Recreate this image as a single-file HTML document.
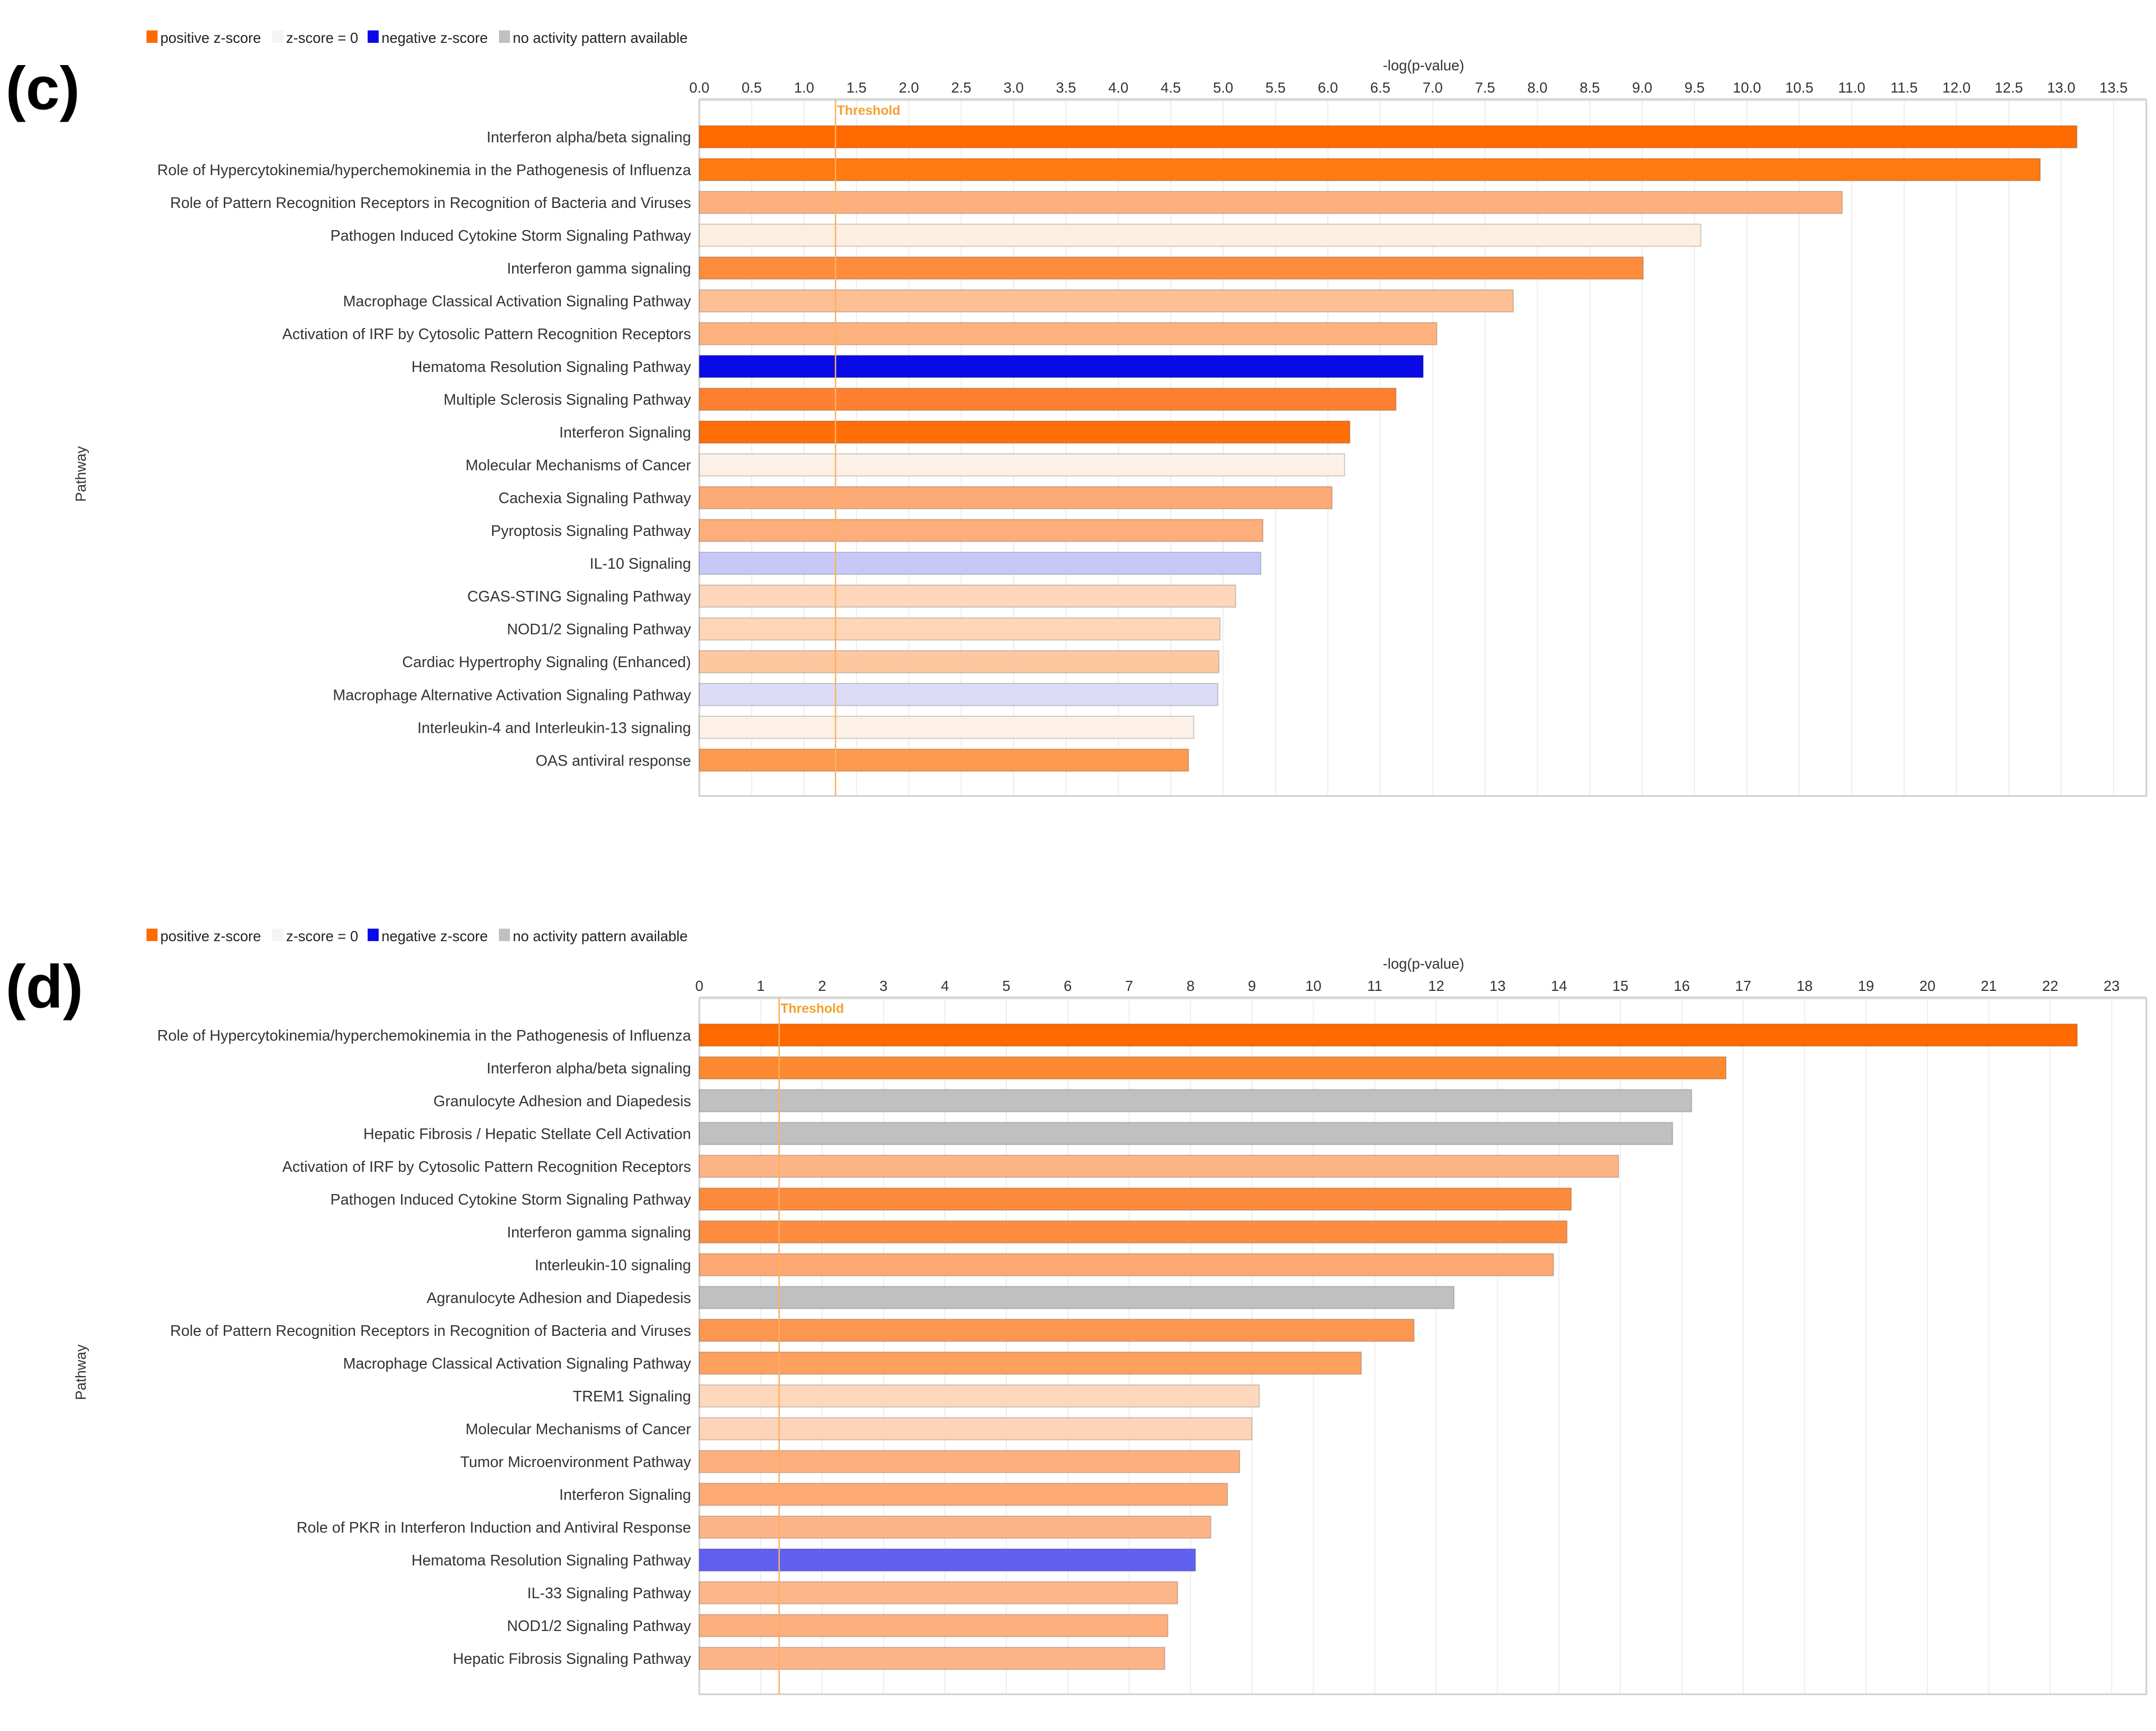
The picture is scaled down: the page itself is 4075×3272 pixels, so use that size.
<!DOCTYPE html>
<html><head><meta charset="utf-8"><style>
html,body{margin:0;padding:0;background:#fff}
svg{display:block}
text{font-family:"Liberation Sans",sans-serif}
</style></head><body>
<svg id="fig" width="4075" height="3272" viewBox="0 0 1560 1252.6" preserveAspectRatio="none" xmlns="http://www.w3.org/2000/svg"></svg>
<script>
const catsC = ["Interferon alpha/beta signaling","Role of Hypercytokinemia/hyperchemokinemia in the Pathogenesis of Influenza","Role of Pattern Recognition Receptors in Recognition of Bacteria and Viruses","Pathogen Induced Cytokine Storm Signaling Pathway","Interferon gamma signaling","Macrophage Classical Activation Signaling Pathway","Activation of IRF by Cytosolic Pattern Recognition Receptors","Hematoma Resolution Signaling Pathway","Multiple Sclerosis Signaling Pathway","Interferon Signaling","Molecular Mechanisms of Cancer","Cachexia Signaling Pathway","Pyroptosis Signaling Pathway","IL-10 Signaling","CGAS-STING Signaling Pathway","NOD1/2 Signaling Pathway","Cardiac Hypertrophy Signaling (Enhanced)","Macrophage Alternative Activation Signaling Pathway","Interleukin-4 and Interleukin-13 signaling","OAS antiviral response"];
const valsC = [13.15,12.8,10.91,9.56,9.01,7.77,7.04,6.91,6.65,6.21,6.16,6.04,5.38,5.36,5.12,4.97,4.96,4.95,4.72,4.67];
const colsC = ["#ff6a00","#ff7a10","#fdb07e","#fdeee2","#fd8c3c","#fdbf94","#fdb27e","#0a0ae6","#fd8030","#ff6e08","#fdf0e6","#fdaa76","#fdae7a","#c8c8f8","#fdd7bb","#fdd6b8","#fdc8a0","#dcdcf8","#fdf0e6","#fd9a50"];
const ticksC = ["0.0","0.5","1.0","1.5","2.0","2.5","3.0","3.5","4.0","4.5","5.0","5.5","6.0","6.5","7.0","7.5","8.0","8.5","9.0","9.5","10.0","10.5","11.0","11.5","12.0","12.5","13.0","13.5"];
const tickValsC = [0,0.5,1,1.5,2,2.5,3,3.5,4,4.5,5,5.5,6,6.5,7,7.5,8,8.5,9,9.5,10,10.5,11,11.5,12,12.5,13,13.5];

const catsD = ["Role of Hypercytokinemia/hyperchemokinemia in the Pathogenesis of Influenza","Interferon alpha/beta signaling","Granulocyte Adhesion and Diapedesis","Hepatic Fibrosis / Hepatic Stellate Cell Activation","Activation of IRF by Cytosolic Pattern Recognition Receptors","Pathogen Induced Cytokine Storm Signaling Pathway","Interferon gamma signaling","Interleukin-10 signaling","Agranulocyte Adhesion and Diapedesis","Role of Pattern Recognition Receptors in Recognition of Bacteria and Viruses","Macrophage Classical Activation Signaling Pathway","TREM1 Signaling","Molecular Mechanisms of Cancer","Tumor Microenvironment Pathway","Interferon Signaling","Role of PKR in Interferon Induction and Antiviral Response","Hematoma Resolution Signaling Pathway","IL-33 Signaling Pathway","NOD1/2 Signaling Pathway","Hepatic Fibrosis Signaling Pathway"];
const valsD = [22.44,16.72,16.16,15.85,14.97,14.2,14.13,13.91,12.29,11.64,10.78,9.12,9.0,8.8,8.6,8.33,8.08,7.79,7.63,7.58];
const colsD = ["#ff6a00","#fd8a30","#c0c0c0","#c0c0c0","#fdb486","#fd8a3c","#fd8c40","#fda872","#c0c0c0","#fd9650","#fda060","#fdd8bc","#fdd4b8","#fdb07e","#fdaa74","#fdb488","#6060f0","#fdb68a","#fdb07e","#fdb488"];
const ticksD = ["0","1","2","3","4","5","6","7","8","9","10","11","12","13","14","15","16","17","18","19","20","21","22","23"];
const tickValsD = [0,1,2,3,4,5,6,7,8,9,10,11,12,13,14,15,16,17,18,19,20,21,22,23];
const threshold = 1.3;

const NS="http://www.w3.org/2000/svg";
const svg=document.getElementById('fig');
function mk(tag,attrs,parent,text){const e=document.createElementNS(NS,tag);for(const k in attrs)e.setAttribute(k,attrs[k]);if(text!==undefined)e.textContent=text;(parent||svg).appendChild(e);return e;}

function panel(label, top, cats, vals, cols, ticks, tickVals, unit){
  const g=mk('g',{});
  
  
  const x0=506, xr=1553, axisY=top+45, bottomY=top+549;
  const xs=v=>x0+v*unit;
  const t=mk('text',{x:4,y:top+52,'font-size':44,'font-weight':'bold',fill:'#000'},g,'('+label+')');
  
  
  const leg=mk('g',{},g);
  
  
  const items=[["#ff6a00","positive z-score",106],["#f4f4f4","z-score = 0",197],["#0a0ae6","negative z-score",266],["#c0c0c0","no activity pattern available",361]];
  items.forEach(it=>{
    const r=mk('rect',{x:it[2],y:top-5,width:8,height:9,fill:it[0]},leg);
    
    
    const tt=mk('text',{x:it[2]+10,y:top+4,'font-size':10.5,fill:'#222'},leg,it[1]);
    
    
  });
  const ti=mk('text',{x:1030,y:top+24,'font-size':10.5,fill:'#333','text-anchor':'middle'},g,'-log(p-value)');
  
  
  tickVals.forEach((v,i)=>{
    const l=mk('line',{x1:xs(v),x2:xs(v),y1:axisY,y2:bottomY,stroke:'#eeeeee','stroke-width':0.8},g);
    
    
    const tl=mk('text',{x:xs(v),y:top+40,'font-size':10.5,fill:'#333','text-anchor':'middle'},g,ticks[i]);
    
    
  });
  const ax=mk('line',{x1:x0,x2:xr,y1:axisY,y2:axisY,stroke:'#d8d8d8','stroke-width':2},g);
  
  
  const lb=mk('polyline',{points:`${x0},${axisY} ${x0},${bottomY} ${xr},${bottomY} ${xr},${axisY}`,fill:'none',stroke:'#d0d0d0','stroke-width':1.2},g);
  
  
  const yt=mk('text',{x:62,y:top+316,'font-size':10.5,fill:'#333','text-anchor':'middle',transform:`rotate(-90 62 ${top+316})`},g,'Pathway');
  
  
  const y1=top+72, step=23.74;
  cats.forEach((c,i)=>{
    const cy=y1+i*step;
    const b=mk('rect',{x:x0,y:cy-8,width:xs(vals[i])-x0,height:16,fill:cols[i],stroke:'rgba(0,0,0,0.18)','stroke-width':0.8},g);
    
    
    const tl=mk('text',{x:500,y:cy+4,'font-size':11,fill:'#333','text-anchor':'end'},g,c);
    
    
  });
  const th=mk('line',{x1:xs(threshold),x2:xs(threshold),y1:axisY,y2:bottomY,stroke:'#fdb060','stroke-width':1},g);
  
  
  const tht=mk('text',{x:xs(threshold)+1,y:axisY+11,'font-size':9.5,fill:'#f5a030','font-weight':'bold'},g,'Threshold');
  
  
}
panel('c',27,catsC,valsC,colsC,ticksC,tickValsC,75.8);
panel('d',677,catsD,valsD,colsD,ticksD,tickValsD,44.43);
</script>
</body></html>
